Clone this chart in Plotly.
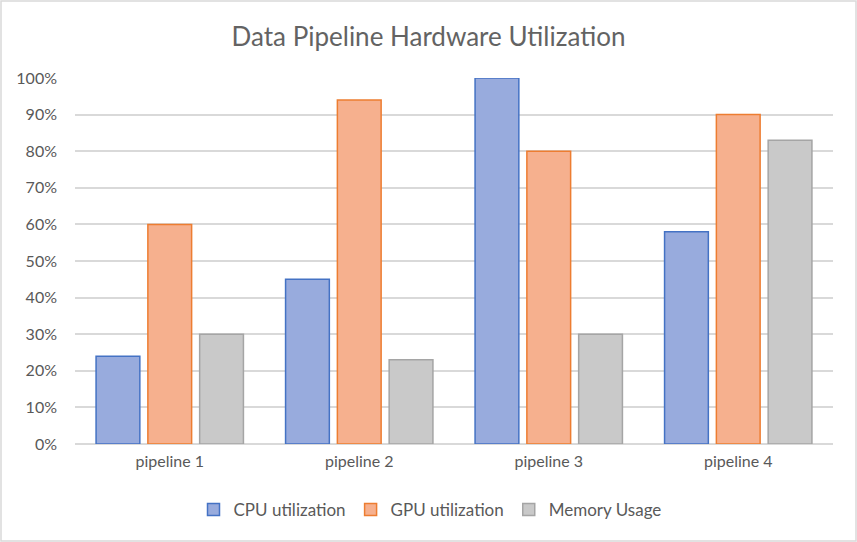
import plotly.graph_objects as go

categories = ["pipeline 1", "pipeline 2", "pipeline 3", "pipeline 4"]
cpu = [0.24, 0.45, 1.00, 0.58]
gpu = [0.60, 0.94, 0.80, 0.90]
mem = [0.30, 0.23, 0.30, 0.83]
y_ticks = [0, 0.1, 0.2, 0.3, 0.4, 0.5, 0.6, 0.7, 0.8, 0.9, 1.0]

W, H = 857, 542
L, R, T, B = 75, 24, 78, 98

series = [
    ("CPU utilization", cpu, "#98abdd", "#4472c4"),
    ("GPU utilization", gpu, "#f6b08e", "#ed7d31"),
    ("Memory Usage", mem, "#c9c9c9", "#a5a5a5"),
]

fig = go.Figure()
for name, vals, fill, line in series:
    fig.add_trace(go.Bar(
        x=categories, y=vals, name=name,
        marker=dict(color=fill, line=dict(color=line, width=1.5)),
    ))

pw = W - L - R
ph = H - T - B
fig.add_shape(type="rect", xref="paper", yref="paper",
              x0=-(L - 1) / pw, x1=1 + (R - 1) / pw,
              y0=-(B - 1) / ph, y1=1 + (T - 1) / ph,
              line=dict(color="#d9d9d9", width=1.5), layer="below")

fig.update_layout(
    width=W, height=H,
    margin=dict(l=L, r=R, t=T, b=B),
    paper_bgcolor="white", plot_bgcolor="white",
    font=dict(family="Lato, Open Sans, sans-serif", color="#595959", size=16),
    title=dict(text="Data Pipeline Hardware Utilization", x=0.5, xanchor="center",
               y=1 - 37 / H, yanchor="middle",
               font=dict(size=26, color="#636363", family="Lato, sans-serif")),
    barmode="group", bargap=0.18, bargroupgap=0.155,
    showlegend=True,
    legend=dict(orientation="h", x=0.5 - 24 / pw, xanchor="center", y=-(510 - 444) / ph, yanchor="middle",
                font=dict(size=17, color="#595959"), itemwidth=30, traceorder="normal"),
    xaxis=dict(showgrid=False, showline=False, ticks="", ticklabelstandoff=6,
               tickfont=dict(size=16, color="#595959")),
    yaxis=dict(range=[0, 1.0], tickvals=y_ticks, tickformat=".0%", showgrid=True,
               gridcolor="#d9d9d9", gridwidth=1.5, zeroline=True, zerolinecolor="#d9d9d9",
               zerolinewidth=1.5, showline=False, ticks="", ticklabelstandoff=17,
               tickfont=dict(size=16, color="#595959")),
)
fig.write_html("out.html", config={"displayModeBar": False},
               post_script="document.body.style.margin='0';document.body.style.overflow='hidden';")
